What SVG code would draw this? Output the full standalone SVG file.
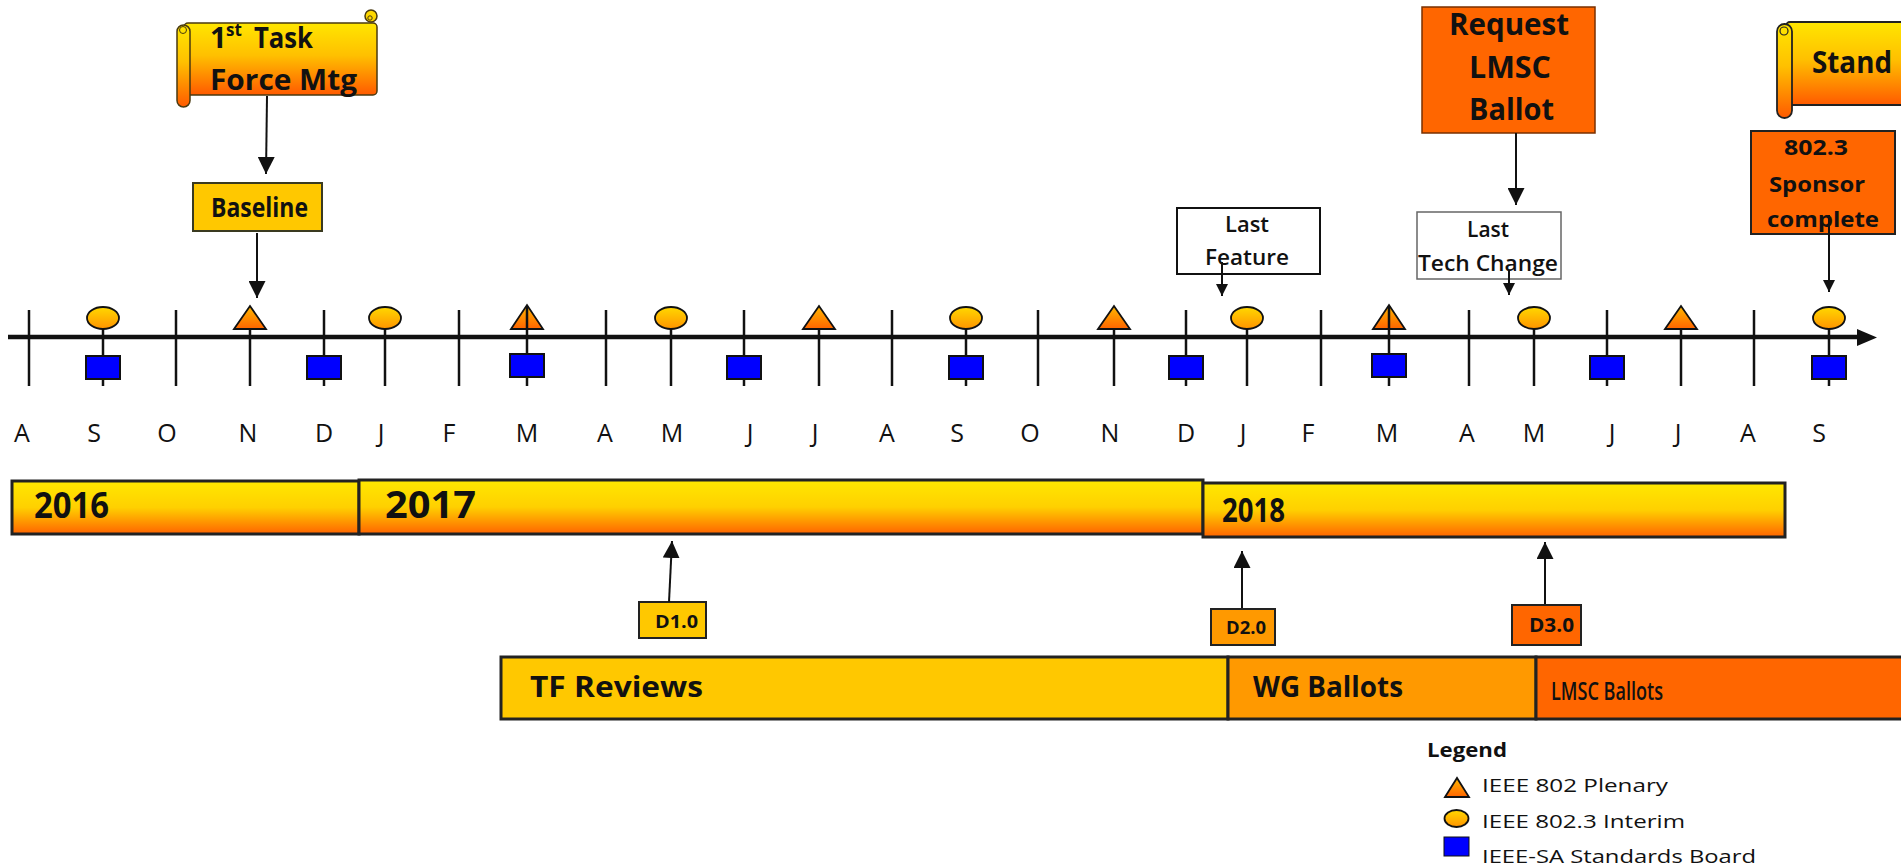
<svg xmlns="http://www.w3.org/2000/svg" width="1901" height="867" viewBox="0 0 1901 867">
<style>
text{font-family:"Open Sans","Liberation Sans",sans-serif;fill:#111}
.b{font-weight:bold}
.mon{font-size:25px;text-anchor:middle}
.tick{stroke:#111;stroke-width:2.5}
.ell{fill:url(#gCirc);stroke:#111;stroke-width:1.8}
.tri{fill:url(#gTri);stroke:#111;stroke-width:1.8}
.sq{fill:#0000FF;stroke:#111;stroke-width:2}
.arr{stroke:#111;stroke-width:2;fill:none}
.bar{stroke:#222;stroke-width:3}
.lg{font-size:19px}
</style>
<defs>
<linearGradient id="gScroll" x1="0" y1="0" x2="0" y2="1">
<stop offset="0" stop-color="#FFE600"/><stop offset="0.45" stop-color="#FFC000"/><stop offset="1" stop-color="#FF5A00"/>
</linearGradient>
<linearGradient id="gBar" x1="0" y1="0" x2="0" y2="1">
<stop offset="0" stop-color="#FFE800"/><stop offset="0.5" stop-color="#FFD000"/><stop offset="1" stop-color="#FF6400"/>
</linearGradient>
<linearGradient id="gCirc" x1="0" y1="0" x2="0" y2="1">
<stop offset="0" stop-color="#FFD800"/><stop offset="1" stop-color="#FF9400"/>
</linearGradient>
<linearGradient id="gTri" x1="0" y1="0" x2="0" y2="1">
<stop offset="0" stop-color="#FFB800"/><stop offset="1" stop-color="#FF6400"/>
</linearGradient>
<marker id="ah" viewBox="0 0 10 10" refX="10" refY="5" markerUnits="userSpaceOnUse" markerWidth="17" markerHeight="17" orient="auto">
<path d="M0,0 L10,5 L0,10 Z" fill="#111"/>
</marker>
<marker id="ahs" viewBox="0 0 10 10" refX="10" refY="5" markerUnits="userSpaceOnUse" markerWidth="13" markerHeight="12" orient="auto">
<path d="M0,0 L10,5 L0,10 Z" fill="#111"/>
</marker>
</defs>
<rect width="1901" height="867" fill="#fff"/>

<!-- timeline axis -->
<g id="axis">
<line x1="8" y1="337" x2="1860" y2="337" stroke="#111" stroke-width="4.5"/>
<path d="M1857,329 L1877,337.5 L1857,346 Z" fill="#111"/>
<g class="tick">
<line x1="29" y1="310" x2="29" y2="386"/>
<line x1="103" y1="318" x2="103" y2="386"/>
<line x1="176" y1="310" x2="176" y2="386"/>
<line x1="250" y1="325" x2="250" y2="386"/>
<line x1="324" y1="310" x2="324" y2="386"/>
<line x1="385" y1="318" x2="385" y2="386"/>
<line x1="459" y1="310" x2="459" y2="386"/>
<line x1="606" y1="310" x2="606" y2="386"/>
<line x1="671" y1="318" x2="671" y2="386"/>
<line x1="744" y1="310" x2="744" y2="386"/>
<line x1="819" y1="325" x2="819" y2="386"/>
<line x1="892" y1="310" x2="892" y2="386"/>
<line x1="966" y1="318" x2="966" y2="386"/>
<line x1="1038" y1="310" x2="1038" y2="386"/>
<line x1="1114" y1="325" x2="1114" y2="386"/>
<line x1="1186" y1="310" x2="1186" y2="386"/>
<line x1="1247" y1="318" x2="1247" y2="386"/>
<line x1="1321" y1="310" x2="1321" y2="386"/>
<line x1="1469" y1="310" x2="1469" y2="386"/>
<line x1="1534" y1="318" x2="1534" y2="386"/>
<line x1="1607" y1="310" x2="1607" y2="386"/>
<line x1="1681" y1="325" x2="1681" y2="386"/>
<line x1="1754" y1="310" x2="1754" y2="386"/>
<line x1="1829" y1="318" x2="1829" y2="386"/>
</g>
</g>

<!-- meeting markers -->
<g id="markers">
<ellipse class="ell" cx="103" cy="318" rx="16" ry="11"/>
<ellipse class="ell" cx="385" cy="318" rx="16" ry="11"/>
<ellipse class="ell" cx="671" cy="318" rx="16" ry="11"/>
<ellipse class="ell" cx="966" cy="318" rx="16" ry="11"/>
<ellipse class="ell" cx="1247" cy="318" rx="16" ry="11"/>
<ellipse class="ell" cx="1534" cy="318" rx="16" ry="11"/>
<ellipse class="ell" cx="1829" cy="318" rx="16" ry="11"/>
<polygon class="tri" points="234,329 250,306 266,329"/>
<polygon class="tri" points="511,329 527,305 543,329"/>
<polygon class="tri" points="803,329 819,306 835,329"/>
<polygon class="tri" points="1098,329 1114,306 1130,329"/>
<polygon class="tri" points="1373,329 1389,305 1405,329"/>
<polygon class="tri" points="1665,329 1681,306 1697,329"/>
<line class="tick" x1="527" y1="306" x2="527" y2="386"/>
<line class="tick" x1="1389" y1="306" x2="1389" y2="386"/>
<rect class="sq" x="86" y="356" width="34" height="23"/>
<rect class="sq" x="307" y="356" width="34" height="23"/>
<rect class="sq" x="510" y="354" width="34" height="23"/>
<rect class="sq" x="727" y="356" width="34" height="23"/>
<rect class="sq" x="949" y="356" width="34" height="23"/>
<rect class="sq" x="1169" y="356" width="34" height="23"/>
<rect class="sq" x="1372" y="354" width="34" height="23"/>
<rect class="sq" x="1590" y="356" width="34" height="23"/>
<rect class="sq" x="1812" y="356" width="34" height="23"/>
</g>

<!-- month labels -->
<g id="months">
<text class="mon" x="22" y="442">A</text>
<text class="mon" x="94" y="442">S</text>
<text class="mon" x="167" y="442">O</text>
<text class="mon" x="248" y="442">N</text>
<text class="mon" x="324" y="442">D</text>
<text class="mon" x="381" y="442">J</text>
<text class="mon" x="449" y="442">F</text>
<text class="mon" x="527" y="442">M</text>
<text class="mon" x="605" y="442">A</text>
<text class="mon" x="672" y="442">M</text>
<text class="mon" x="750" y="442">J</text>
<text class="mon" x="815" y="442">J</text>
<text class="mon" x="887" y="442">A</text>
<text class="mon" x="957" y="442">S</text>
<text class="mon" x="1030" y="442">O</text>
<text class="mon" x="1110" y="442">N</text>
<text class="mon" x="1186" y="442">D</text>
<text class="mon" x="1243" y="442">J</text>
<text class="mon" x="1308" y="442">F</text>
<text class="mon" x="1387" y="442">M</text>
<text class="mon" x="1467" y="442">A</text>
<text class="mon" x="1534" y="442">M</text>
<text class="mon" x="1612" y="442">J</text>
<text class="mon" x="1678" y="442">J</text>
<text class="mon" x="1748" y="442">A</text>
<text class="mon" x="1819" y="442">S</text>
</g>

<!-- year bars -->
<g id="year2016">
<rect class="bar" x="12" y="481" width="347" height="53" fill="url(#gBar)"/>
<text class="b" x="34" y="518" font-size="35" textLength="75" lengthAdjust="spacingAndGlyphs">2016</text>
</g>
<g id="year2017">
<rect class="bar" x="359" y="480" width="844" height="54" fill="url(#gBar)"/>
<text class="b" x="385" y="518" font-size="38" textLength="91" lengthAdjust="spacingAndGlyphs">2017</text>
</g>
<g id="year2018">
<rect class="bar" x="1203" y="483" width="582" height="54" fill="url(#gBar)"/>
<text class="b" x="1222" y="522" font-size="34" textLength="63" lengthAdjust="spacingAndGlyphs">2018</text>
</g>

<!-- phase bars -->
<g id="tfReviews">
<rect class="bar" x="501" y="657" width="727" height="62" fill="#FFC800"/>
<text class="b" x="530" y="697" font-size="28" textLength="173" lengthAdjust="spacingAndGlyphs">TF Reviews</text>
</g>
<g id="wgBallots">
<rect class="bar" x="1228" y="657" width="308" height="62" fill="#FF9900"/>
<text class="b" x="1253" y="697" font-size="28" textLength="150" lengthAdjust="spacingAndGlyphs">WG Ballots</text>
</g>
<g id="lmscBallots">
<rect class="bar" x="1536" y="657" width="380" height="62" fill="#FF6600"/>
<text x="1551" y="700" font-size="26" font-weight="600" textLength="112" lengthAdjust="spacingAndGlyphs">LMSC Ballots</text>
</g>

<!-- draft boxes -->
<g id="d10">
<rect x="639" y="602" width="67" height="36" fill="#FFC800" stroke="#222" stroke-width="2"/>
<text class="b" x="655" y="628" font-size="18" textLength="43" lengthAdjust="spacingAndGlyphs">D1.0</text>
</g>
<g id="d20">
<rect x="1211" y="609" width="64" height="36" fill="#FF9900" stroke="#222" stroke-width="2"/>
<text class="b" x="1226" y="634" font-size="18" textLength="40" lengthAdjust="spacingAndGlyphs">D2.0</text>
</g>
<g id="d30">
<rect x="1512" y="605" width="69" height="40" fill="#FF6600" stroke="#222" stroke-width="2"/>
<text class="b" x="1529" y="632" font-size="20" textLength="45" lengthAdjust="spacingAndGlyphs">D3.0</text>
</g>

<!-- 1st Task Force Mtg scroll -->
<g id="taskForceMtg">
<rect x="184" y="23" width="193" height="72" rx="4" fill="url(#gScroll)" stroke="#4a3a10" stroke-width="1.5"/>
<circle cx="371" cy="16" r="6" fill="#FFD800" stroke="#4a3a10" stroke-width="1.5"/>
<circle cx="370" cy="18" r="2.2" fill="none" stroke="#4a3a10" stroke-width="1"/>
<rect x="177" y="25" width="13" height="82" rx="6.5" fill="url(#gScroll)" stroke="#4a3a10" stroke-width="1.5"/>
<circle cx="183" cy="30" r="3.5" fill="none" stroke="#4a3a10" stroke-width="1"/>
<text class="b" x="210" y="48" font-size="29">1</text>
<text class="b" x="226" y="36" font-size="17">st</text>
<text class="b" x="254" y="48" font-size="29" textLength="59" lengthAdjust="spacingAndGlyphs">Task</text>
<text class="b" x="210" y="90" font-size="29" textLength="147" lengthAdjust="spacingAndGlyphs">Force Mtg</text>
</g>

<g id="baseline">
<rect x="193" y="183" width="129" height="48" fill="#FFC800" stroke="#3a3a20" stroke-width="2"/>
<text class="b" x="211" y="217" font-size="26" textLength="97" lengthAdjust="spacingAndGlyphs">Baseline</text>
</g>

<g id="lastFeature">
<rect x="1177" y="208" width="143" height="66" fill="#fff" stroke="#111" stroke-width="2"/>
<text x="1225" y="232" font-size="22" font-weight="600" textLength="44" lengthAdjust="spacingAndGlyphs">Last</text>
<text x="1205" y="265" font-size="22" font-weight="600" textLength="84" lengthAdjust="spacingAndGlyphs">Feature</text>
</g>

<g id="requestLmsc">
<rect x="1422" y="7" width="173" height="126" fill="#FF6600" stroke="#7a3000" stroke-width="1.5"/>
<text class="b" x="1449" y="35" font-size="30" textLength="120" lengthAdjust="spacingAndGlyphs">Request</text>
<text class="b" x="1469" y="78" font-size="30" textLength="82" lengthAdjust="spacingAndGlyphs">LMSC</text>
<text class="b" x="1469" y="120" font-size="30" textLength="85" lengthAdjust="spacingAndGlyphs">Ballot</text>
</g>

<g id="lastTechChange">
<rect x="1417" y="212" width="144" height="67" fill="#fff" stroke="#666" stroke-width="1.5"/>
<text x="1467" y="237" font-size="22" font-weight="600" textLength="42" lengthAdjust="spacingAndGlyphs">Last</text>
<text x="1418" y="271" font-size="22" font-weight="600" textLength="140" lengthAdjust="spacingAndGlyphs">Tech Change</text>
</g>

<g id="standardScroll">
<rect x="1786" y="22" width="130" height="83" rx="4" fill="url(#gScroll)" stroke="#222" stroke-width="1.8"/>
<rect x="1777" y="24" width="15" height="94" rx="7.5" fill="url(#gScroll)" stroke="#222" stroke-width="1.8"/>
<circle cx="1784" cy="31" r="4" fill="none" stroke="#222" stroke-width="1.2"/>
<text class="b" x="1812" y="73" font-size="31" textLength="80" lengthAdjust="spacingAndGlyphs">Stand</text>
</g>

<g id="sponsorComplete">
<rect x="1751" y="131" width="144" height="103" fill="#FF6600" stroke="#222" stroke-width="2"/>
<text class="b" x="1784" y="155" font-size="22" textLength="64" lengthAdjust="spacingAndGlyphs">802.3</text>
<text class="b" x="1769" y="192" font-size="22" textLength="96" lengthAdjust="spacingAndGlyphs">Sponsor</text>
<text class="b" x="1767" y="227" font-size="22" textLength="112" lengthAdjust="spacingAndGlyphs">complete</text>
</g>

<!-- connectors -->
<g id="connectors">
<line class="arr" x1="267" y1="96" x2="266" y2="174" marker-end="url(#ah)"/>
<line class="arr" x1="257" y1="233" x2="257" y2="298" marker-end="url(#ah)"/>
<line class="arr" x1="1222" y1="262" x2="1222" y2="296" marker-end="url(#ahs)"/>
<line class="arr" x1="1516" y1="133" x2="1516" y2="205" marker-end="url(#ah)"/>
<line class="arr" x1="1509" y1="270" x2="1509" y2="295" marker-end="url(#ahs)"/>
<line class="arr" x1="1829" y1="215" x2="1829" y2="292" marker-end="url(#ahs)"/>
<line class="arr" x1="669" y1="602" x2="672" y2="541" marker-end="url(#ah)"/>
<line class="arr" x1="1242" y1="608" x2="1242" y2="551" marker-end="url(#ah)"/>
<line class="arr" x1="1545" y1="604" x2="1545" y2="542" marker-end="url(#ah)"/>
</g>

<!-- legend -->
<g id="legend">
<text class="b" x="1427" y="757" font-size="20" textLength="80" lengthAdjust="spacingAndGlyphs">Legend</text>
<polygon class="tri" points="1445,797 1457,778 1469,797" stroke-width="1.2"/>
<text class="lg" x="1482" y="792" textLength="186" lengthAdjust="spacingAndGlyphs">IEEE 802 Plenary</text>
<ellipse class="ell" cx="1456.5" cy="818.5" rx="12" ry="8.5" stroke-width="1.2"/>
<text class="lg" x="1482" y="828" textLength="203" lengthAdjust="spacingAndGlyphs">IEEE 802.3 Interim</text>
<rect x="1444" y="837" width="25" height="19" fill="#0000FF" stroke="#111" stroke-width="1"/>
<text class="lg" x="1482" y="863" textLength="274" lengthAdjust="spacingAndGlyphs">IEEE-SA  Standards Board</text>
</g>
</svg>
